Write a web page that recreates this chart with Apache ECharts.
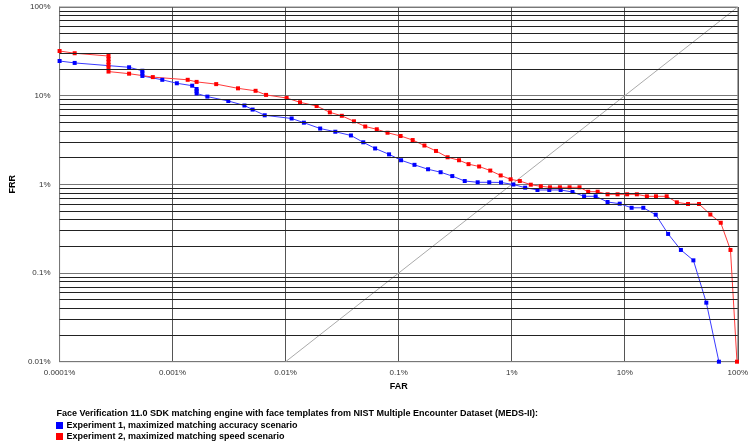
<!DOCTYPE html>
<html>
<head>
<meta charset="utf-8">
<script src="https://cdn.jsdelivr.net/npm/echarts@6/dist/echarts.min.js"></script>
<style>html,body{margin:0;padding:0;background:#fff}#c{width:751px;height:445px}</style>
</head>
<body>
<div id="c"></div>
<script>
const xTickLabels = ['0.0001%','0.001%','0.01%','0.1%','1%','10%','100%'];
const yTickLabels = ['0.01%','0.1%','1%','10%','100%'];

const exp1FAR = [0.0001,0.000136,0.000412,0.00054,0.00054,0.00054,0.00081,0.00109,0.00149,0.00163,0.00163,0.00163,0.00203,0.00311,0.00432,0.0051,0.00653,0.0113,0.0145,0.0202,0.0275,0.0378,0.0486,0.0619,0.0822,0.105,0.138,0.182,0.235,0.298,0.384,0.50,0.633,0.804,1.035,1.315,1.69,2.15,2.71,3.45,4.37,5.53,7.05,9.03,11.5,14.6,18.8,24.2,31.4,40.5,52.7,68.1];
const exp1FRR = [24.6,23.4,20.9,19.1,17.9,16.7,15.1,13.8,12.96,11.9,11.3,10.6,9.76,8.71,7.75,6.97,6.01,5.53,4.96,4.26,3.92,3.56,2.98,2.54,2.18,1.87,1.66,1.48,1.37,1.24,1.09,1.055,1.055,1.05,0.996,0.917,0.864,0.864,0.864,0.82,0.733,0.733,0.632,0.605,0.544,0.544,0.455,0.276,0.182,0.139,0.0463,0.01];

const exp2FAR = [0.0001,0.000136,0.000271,0.000271,0.000271,0.000271,0.000271,0.000271,0.000412,0.000668,0.00136,0.00163,0.00243,0.00379,0.00542,0.00671,0.0102,0.0134,0.0188,0.0246,0.0314,0.0402,0.0506,0.064,0.0797,0.104,0.133,0.169,0.214,0.271,0.342,0.415,0.515,0.646,0.799,0.978,1.18,1.475,1.81,2.18,2.67,3.25,3.98,4.75,5.76,7.05,8.64,10.5,12.8,15.7,18.9,23.5,28.9,36.3,45.4,57.2,70.7,86.2,98.4];
const exp2FRR = [31.9,30.1,28.0,25.9,24.0,22.2,20.5,18.7,17.7,16.2,15.1,14.3,13.5,12.1,11.35,10.2,9.41,8.42,7.65,6.49,5.93,5.14,4.49,4.18,3.82,3.51,3.16,2.74,2.38,2.02,1.87,1.69,1.59,1.43,1.26,1.14,1.09,0.991,0.951,0.926,0.926,0.926,0.926,0.826,0.826,0.772,0.772,0.772,0.772,0.733,0.733,0.733,0.627,0.600,0.600,0.457,0.369,0.182,0.01];

const diagonal = [0.01, 100];
const minorFRR = [0.02,0.03,0.04,0.05,0.06,0.07,0.08,0.09,0.2,0.3,0.4,0.5,0.6,0.7,0.8,0.9,2,3,4,5,6,7,8,9,20,30,40,50,60,70,80,90];

const seriesNames = ['Experiment 1, maximized matching accuracy scenario','Experiment 2, maximized matching speed scenario'];
const titleText = 'Face Verification 11.0 SDK matching engine with face templates from NIST Multiple Encounter Dataset (MEDS-II):';

const FONT = "'Liberation Sans', Arial, sans-serif";
const zip = (a, b) => a.map((v, i) => [v, b[i]]);
const expIdx = v => Math.round(Math.log10(v));

const chart = echarts.init(document.getElementById('c'), null, {renderer: 'canvas'});
chart.setOption({
  animation: false,
  backgroundColor: '#fff',
  textStyle: {fontFamily: FONT},
  title: {
    text: titleText,
    left: 56.5, top: 409.5,
    padding: 0,
    textStyle: {fontSize: 9, fontWeight: 'bold', color: '#000', fontFamily: FONT}
  },
  legend: {
    data: seriesNames,
    orient: 'vertical',
    left: 56, top: 420.5,
    padding: 0,
    icon: 'rect',
    itemWidth: 7, itemHeight: 7,
    itemGap: 1,
    selectedMode: false,
    textStyle: {fontSize: 9, fontWeight: 'bold', color: '#000', fontFamily: FONT, lineHeight: 10, padding: [0,0,0,-1.5]}
  },
  grid: {
    left: 55.7, right: 12.7, top: 7, bottom: 83.3,
    show: true, borderColor: '#888', borderWidth: 1
  },
  xAxis: {
    type: 'log', logBase: 10, min: 0.0001, max: 100, interval: 1,
    name: 'FAR', nameLocation: 'middle', nameGap: 19,
    nameTextStyle: {fontSize: 9, fontWeight: 'bold', color: '#000', fontFamily: FONT},
    axisLine: {show: true, lineStyle: {color: '#777', width: 1}},
    axisTick: {show: false},
    axisLabel: {fontSize: 8, color: '#333', margin: 7, fontFamily: FONT,
      formatter: v => xTickLabels[expIdx(v) + 4]},
    splitLine: {show: true, lineStyle: {color: '#555', width: 1}},
    minorTick: {show: false}, minorSplitLine: {show: false}
  },
  yAxis: {
    type: 'log', logBase: 10, min: 0.01, max: 100, interval: 1,
    name: 'FRR', nameLocation: 'middle', nameGap: 38,
    nameTextStyle: {fontSize: 9, fontWeight: 'bold', color: '#000', fontFamily: FONT},
    axisLine: {show: true, lineStyle: {color: '#777', width: 1}},
    axisTick: {show: false},
    axisLabel: {fontSize: 8, color: '#333', margin: 9, fontFamily: FONT,
      formatter: v => yTickLabels[expIdx(v) + 2]},
    splitLine: {show: true, lineStyle: {color: '#777', width: 1}}
  },
  series: [
    {
      type: 'line', name: 'diag', z: 1,
      data: zip(diagonal, diagonal),
      showSymbol: false, symbol: 'none', silent: true,
      lineStyle: {color: '#aaa', width: 1},
      markLine: {
        silent: true, symbol: ['none','none'], animation: false,
        label: {show: false},
        lineStyle: {color: '#222', width: 1, type: 'solid'},
        emphasis: {disabled: true},
        data: minorFRR.map(v => ({yAxis: v}))
      }
    },
    {
      type: 'line', name: seriesNames[0], z: 3, clip: false,
      data: zip(exp1FAR, exp1FRR),
      symbol: 'rect', symbolSize: 4, showAllSymbol: true,
      itemStyle: {color: '#0000ff'},
      lineStyle: {color: '#3a3aff', width: 1}
    },
    {
      type: 'line', name: seriesNames[1], z: 3, clip: false,
      data: zip(exp2FAR, exp2FRR),
      symbol: 'rect', symbolSize: 4, showAllSymbol: true,
      itemStyle: {color: '#ff0000'},
      lineStyle: {color: '#ff3a3a', width: 1}
    }
  ]
});
</script>
</body>
</html>
